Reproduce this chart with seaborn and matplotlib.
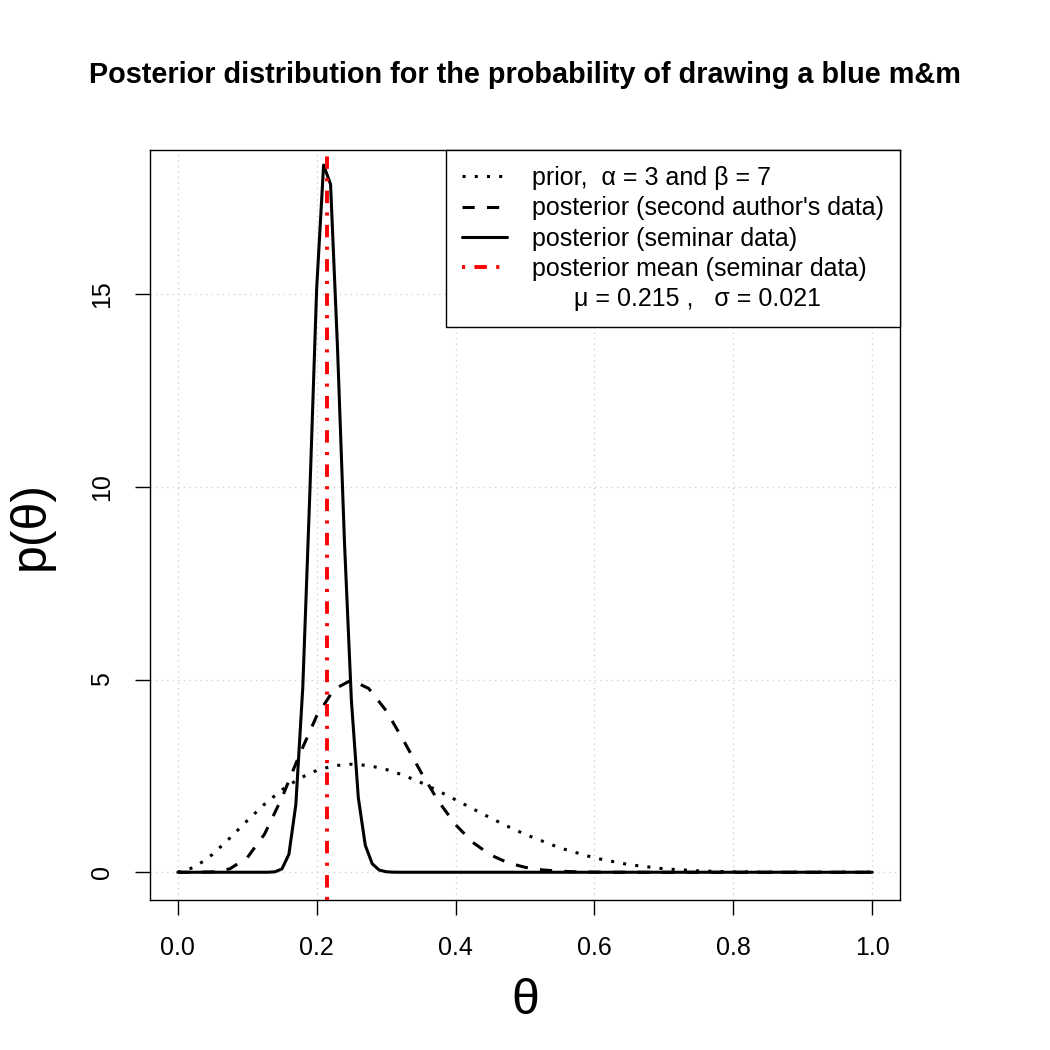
import numpy as np
import pandas as pd
import matplotlib
matplotlib.use('Agg')
import matplotlib.pyplot as plt
import seaborn as sns
from matplotlib.lines import Line2D

# prior Beta(3, 7)
prior_x = [0.0, 0.025, 0.05, 0.075, 0.1, 0.125, 0.15, 0.175, 0.2, 0.225, 0.25,
           0.275, 0.3, 0.325, 0.35, 0.375, 0.4, 0.425, 0.45, 0.475, 0.5,
           0.55, 0.6, 0.65, 0.7, 0.75, 0.8, 0.85, 0.9, 0.95, 1.0]
prior_y = [0.0, 0.135, 0.463, 0.888, 1.339, 1.767, 2.138, 2.433, 2.642, 2.764, 2.803,
           2.768, 2.668, 2.518, 2.328, 2.112, 1.881, 1.645, 1.413, 1.191, 0.984,
           0.633, 0.372, 0.196, 0.090, 0.035, 0.010, 0.002, 0.0002, 0.0, 0.0]

# posterior with the second author's data (dashed)
author_x = [0.0, 0.025, 0.05, 0.075, 0.1, 0.125, 0.15, 0.175, 0.2, 0.225, 0.25,
            0.275, 0.3, 0.325, 0.35, 0.375, 0.4, 0.425, 0.45, 0.475, 0.5,
            0.525, 0.55, 0.575, 0.6, 0.625, 0.65, 0.7, 0.8, 0.9, 1.0]
author_y = [0.0, 0.0001, 0.009, 0.089, 0.376, 0.992, 1.933, 3.038, 4.054, 4.747, 4.985,
            4.767, 4.194, 3.422, 2.603, 1.851, 1.234, 0.772, 0.453, 0.249, 0.128,
            0.061, 0.027, 0.011, 0.004, 0.0015, 0.0005, 0.0, 0.0, 0.0, 0.0]

# posterior with the seminar data (solid)
seminar_x = [0.0, 0.12, 0.13, 0.14, 0.15, 0.16, 0.17, 0.18, 0.19, 0.20, 0.21,
             0.22, 0.23, 0.24, 0.25, 0.26, 0.27, 0.28, 0.29, 0.30, 0.31, 0.32, 1.0]
seminar_y = [0.0, 0.0, 0.001, 0.011, 0.086, 0.464, 1.754, 4.793, 9.757, 15.15, 18.35,
             17.85, 13.61, 8.58, 4.46, 1.93, 0.70, 0.22, 0.057, 0.013, 0.002, 0.0, 0.0]

mu = 0.215
sigma = 0.021

x_ticks = [0.0, 0.2, 0.4, 0.6, 0.8, 1.0]
x_labels = ['0.0', '0.2', '0.4', '0.6', '0.8', '1.0']
y_ticks = [0, 5, 10, 15]
y_labels = ['0', '5', '10', '15']

sns.set_style('ticks')
plt.rcParams['font.family'] = ['Liberation Sans', 'DejaVu Sans']
plt.rcParams['text.color'] = 'black'
plt.rcParams['axes.labelcolor'] = 'black'

fig = plt.figure(figsize=(10.5, 10.5), dpi=100)
ax = fig.add_axes([150 / 1050, 150 / 1050, 750 / 1050, 750 / 1050])

dotted = (0, (1, 3))
dashed = (0, (4, 4))
dashdot = (0, (0.8, 2.4, 3.2, 2.4))

sns.lineplot(data=pd.DataFrame({'theta': prior_x, 'p': prior_y}), x='theta', y='p',
             ax=ax, color='black', linewidth=2.2, linestyle=dotted)
sns.lineplot(data=pd.DataFrame({'theta': author_x, 'p': author_y}), x='theta', y='p',
             ax=ax, color='black', linewidth=2.2, linestyle=dashed)
sns.lineplot(data=pd.DataFrame({'theta': seminar_x, 'p': seminar_y}), x='theta', y='p',
             ax=ax, color='black', linewidth=2.2, linestyle='-')
ax.axvline(mu, color='red', linewidth=2.8, linestyle=dashdot, zorder=5)

ax.set_xlim(-0.04, 1.04)
ax.set_ylim(-0.72, 18.74)
ax.set_xticks(x_ticks)
ax.set_xticklabels(x_labels)
ax.set_yticks(y_ticks)
ax.set_yticklabels(y_labels)
ax.grid(True, color='#D3D3D3', linestyle=(0, (1, 3)), linewidth=1)
ax.set_axisbelow(True)

for s in ax.spines.values():
    s.set_visible(True)
    s.set_color('black')
    s.set_linewidth(1.0)

ax.tick_params(direction='out', length=10.8, width=1, pad=15, labelsize=18,
               color='black', labelcolor='black', bottom=True, left=True)
ax.tick_params(axis='y', labelrotation=90)
for lab in ax.get_yticklabels():
    lab.set_va('center')

ax.set_xlabel('θ', fontsize=36, labelpad=13)
ax.set_ylabel('p(θ)', fontsize=36, labelpad=26)

fig.text(0.5, 1 - 75 / 1050, 'Posterior distribution for the probability of drawing a blue m&m',
         ha='center', va='center', fontsize=20.8, fontweight='bold', color='black')

handles = [
    Line2D([], [], color='black', lw=2.2, ls=dotted),
    Line2D([], [], color='black', lw=2.2, ls=dashed),
    Line2D([], [], color='black', lw=2.2, ls='-'),
    Line2D([], [], color='red', lw=2.8, ls=dashdot),
    Line2D([], [], color='none', lw=0),
]
labels = ['prior,  α = 3 and β = 7',
          "posterior (second author's data)",
          'posterior (seminar data)',
          'posterior mean (seminar data)',
          '      μ = 0.215 ,   σ = 0.021']
leg = ax.legend(handles, labels, loc='upper right', bbox_to_anchor=(1, 1),
                borderaxespad=0, frameon=True, fancybox=False, edgecolor='black',
                fontsize=18, handlelength=1.8, handletextpad=1.0, borderpad=0.65,
                labelspacing=0.25, framealpha=1)
leg.get_frame().set_linewidth(1.0)

fig.savefig('out.png', dpi=100)
